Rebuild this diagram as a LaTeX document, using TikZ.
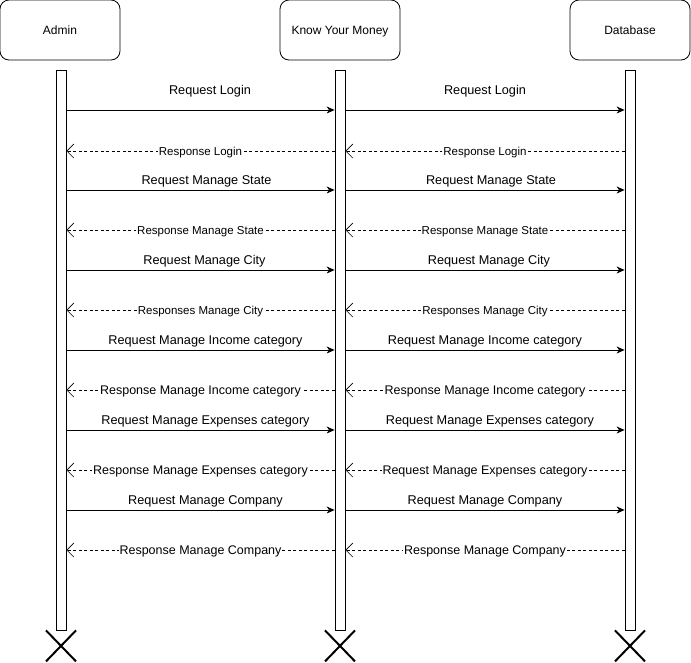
\documentclass[tikz,border=0pt]{standalone}
\usepackage{fontspec}
\setmainfont{Liberation Sans}
\usetikzlibrary{arrows.meta}

\begin{document}
\begin{tikzpicture}[x=1pt,y=-1pt,line width=0.8pt,
    actor/.style={draw,rounded corners=9pt,minimum width=120pt,minimum height=60pt,
                  font=\fontsize{12}{14}\selectfont,text depth=0pt},
    lifebar/.style={draw,fill=white,minimum width=10pt,minimum height=560pt,inner sep=0pt},
    req/.style={-{Stealth[length=8pt,width=7pt,inset=2.5pt]}},
    resp/.style={dash pattern=on 3pt off 2.5pt,-{Straight Barb[length=7pt,width=14pt,line width=0.6pt]}},
    reqlabel/.style={font=\fontsize{12.7}{14}\selectfont,anchor=south,inner sep=2pt},
    smalllabel/.style={font=\fontsize{11.5}{13}\selectfont,fill=white,inner sep=1pt,yshift=-1.5pt},
    biglabel/.style={font=\fontsize{12.5}{14}\selectfont,fill=white,inner sep=1pt,yshift=-1.5pt},
    endmark/.style={line width=2pt}]

  \useasboundingbox (0,0) rectangle (691,662);

  % participants
  \node[actor] (admin) at (60,30) {Admin};
  \node[actor] (kym) at (340,30) {Know Your Money};
  \node[actor] (db) at (630,30) {Database};

  % lifelines
  \node[lifebar] (adminbar) at (61,350) {};
  \node[lifebar] (kymbar) at (340,350) {};
  \node[lifebar] (dbbar) at (630,350) {};

  % login
  \draw[req] (adminbar.east |- 0,110) -- (kymbar.west |- 0,110);
  \node[reqlabel] at (210,100) {Request Login};
  \draw[req] (kymbar.east |- 0,110) -- (dbbar.west |- 0,110);
  \node[reqlabel] at (485,100) {Request Login};
  \draw[resp] (kymbar.west |- 0,151) -- node[smalllabel] {Response Login} (adminbar.east |- 0,151);
  \draw[resp] (dbbar.west |- 0,151) -- node[smalllabel] {Response Login} (kymbar.east |- 0,151);

  % state
  \draw[req] (adminbar.east |- 0,190) -- node[reqlabel,above,xshift=6pt] {Request Manage State} (kymbar.west |- 0,190);
  \draw[req] (kymbar.east |- 0,190) -- node[reqlabel,above,xshift=6pt] {Request Manage State} (dbbar.west |- 0,190);
  \draw[resp] (kymbar.west |- 0,230) -- node[smalllabel] {Response Manage State} (adminbar.east |- 0,230);
  \draw[resp] (dbbar.west |- 0,230) -- node[smalllabel] {Response Manage State} (kymbar.east |- 0,230);

  % city
  \draw[req] (adminbar.east |- 0,270) -- node[reqlabel,above,xshift=4pt] {Request Manage City} (kymbar.west |- 0,270);
  \draw[req] (kymbar.east |- 0,270) -- node[reqlabel,above,xshift=4pt] {Request Manage City} (dbbar.west |- 0,270);
  \draw[resp] (kymbar.west |- 0,310) -- node[smalllabel] {Responses Manage City} (adminbar.east |- 0,310);
  \draw[resp] (dbbar.west |- 0,310) -- node[smalllabel] {Responses Manage City} (kymbar.east |- 0,310);

  % income category
  \draw[req] (adminbar.east |- 0,350) -- node[reqlabel,above,xshift=5pt] {Request Manage Income category} (kymbar.west |- 0,350);
  \draw[req] (kymbar.east |- 0,350) -- node[reqlabel,above] {Request Manage Income category} (dbbar.west |- 0,350);
  \draw[resp] (kymbar.west |- 0,390) -- node[biglabel] {Response Manage Income category} (adminbar.east |- 0,390);
  \draw[resp] (dbbar.west |- 0,390) -- node[biglabel] {Response Manage Income category} (kymbar.east |- 0,390);

  % expenses category
  \draw[req] (adminbar.east |- 0,430) -- node[reqlabel,above,xshift=5pt] {Request Manage Expenses category} (kymbar.west |- 0,430);
  \draw[req] (kymbar.east |- 0,430) -- node[reqlabel,above,xshift=5pt] {Request Manage Expenses category} (dbbar.west |- 0,430);
  \draw[resp] (kymbar.west |- 0,470) -- node[biglabel] {Response Manage Expenses category} (adminbar.east |- 0,470);
  \draw[resp] (dbbar.west |- 0,470) -- node[biglabel] {Request Manage Expenses category} (kymbar.east |- 0,470);

  % company
  \draw[req] (adminbar.east |- 0,510) -- node[reqlabel,above,xshift=5pt] {Request Manage Company} (kymbar.west |- 0,510);
  \draw[req] (kymbar.east |- 0,510) -- node[reqlabel,above] {Request Manage Company} (dbbar.west |- 0,510);
  \draw[resp] (kymbar.west |- 0,550) -- node[biglabel] {Response Manage Company} (adminbar.east |- 0,550);
  \draw[resp] (dbbar.west |- 0,550) -- node[biglabel] {Response Manage Company} (kymbar.east |- 0,550);

  % destroy marks
  \draw[endmark] ([xshift=-15pt]adminbar.south) -- ++(30,31) ([xshift=15pt]adminbar.south) -- ++(-30,31);
  \draw[endmark] ([xshift=-15pt]kymbar.south) -- ++(30,31) ([xshift=15pt]kymbar.south) -- ++(-30,31);
  \draw[endmark] ([xshift=-15pt]dbbar.south) -- ++(30,31) ([xshift=15pt]dbbar.south) -- ++(-30,31);
\end{tikzpicture}
\end{document}
